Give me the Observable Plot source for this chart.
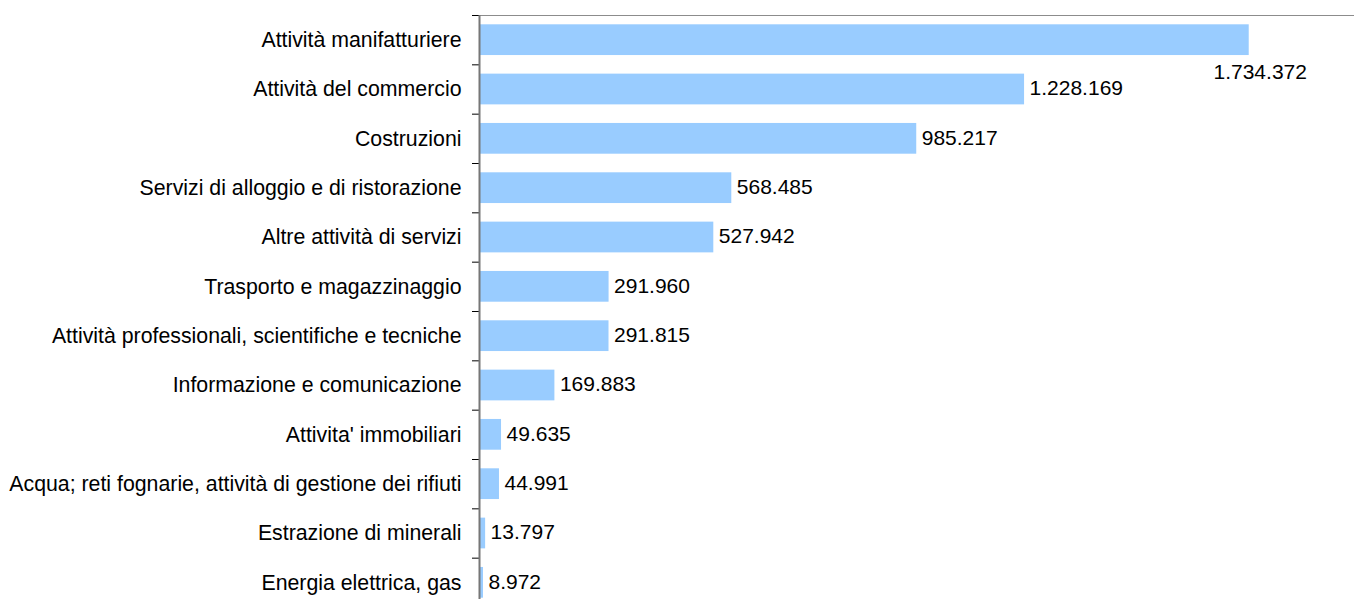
<!DOCTYPE html>
<html>
<head>
<meta charset="utf-8">
<script src="https://cdn.jsdelivr.net/npm/d3@7"></script>
<script src="https://cdn.jsdelivr.net/npm/@observablehq/plot@0.6"></script>
<style>
  html, body { margin: 0; padding: 0; background: #fff; overflow: hidden; }
  #chart { width: 1354px; height: 599px; overflow: hidden; }
</style>
</head>
<body>
<div id="chart"></div>
<script>
const categories = [
  "Attività manifatturiere",
  "Attività del commercio",
  "Costruzioni",
  "Servizi di alloggio e di ristorazione",
  "Altre attività di servizi",
  "Trasporto e magazzinaggio",
  "Attività professionali, scientifiche e tecniche",
  "Informazione e comunicazione",
  "Attivita' immobiliari",
  "Acqua; reti fognarie, attività di gestione dei rifiuti",
  "Estrazione di minerali",
  "Energia elettrica, gas"
];
const values = [1734372, 1228169, 985217, 568485, 527942, 291960, 291815, 169883, 49635, 44991, 13797, 8972];

const data = categories.map((c, i) => ({category: c, value: values[i]}));
const itFormat = d3.formatLocale({decimal: ",", thousands: ".", grouping: [3], currency: ["", "€"]}).format(",d");

const W = 1354, H = 607, mTop = 15, mBottom = 0, mLeft = 479, mRight = 0;
const step = (H - mTop - mBottom) / categories.length;
const pad = 0.377;
const font = "Liberation Sans, Arial, sans-serif";

const plot = Plot.plot({
  width: W,
  height: H,
  marginTop: mTop,
  marginBottom: mBottom,
  marginLeft: mLeft,
  marginRight: mRight,
  style: {fontFamily: font, fontSize: "21px", color: "#000", background: "#fff"},
  x: {domain: [0, 1971600], axis: null},
  y: {domain: categories, paddingInner: pad, paddingOuter: pad / 2, round: false, label: null},
  marks: [
    Plot.barX(data, {x: "value", y: "category", fill: "#99CCFF"}),
    Plot.frame({anchor: "top", stroke: "#8c8c8c", strokeWidth: 1.2}),
    Plot.axisY({tickSize: 0, tickPadding: 18, fontSize: 21.3, fill: "#000", label: null}),
    Plot.axisY({tickSize: 7, text: null, stroke: "#000", dy: -step / 2, label: null}),
    Plot.ruleX([0], {stroke: "#777", strokeWidth: 2}),
    Plot.text(data.filter((d, i) => i > 0), {x: "value", y: "category", text: d => itFormat(d.value), textAnchor: "start", dx: 5, dy: -1, fontSize: 21, fill: "#000"}),
    Plot.text(data.filter((d, i) => i === 0), {x: "value", y: "category", text: d => itFormat(d.value), textAnchor: "middle", dx: 11, dy: 32, fontSize: 21, fill: "#000"})
  ]
});
document.getElementById("chart").appendChild(plot);
</script>
</body>
</html>
